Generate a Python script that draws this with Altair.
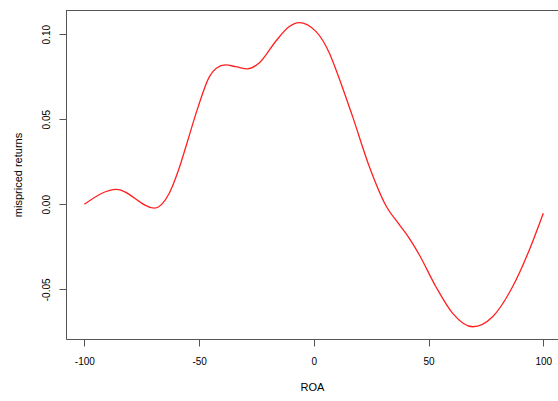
import altair as alt
import pandas as pd

roa = [-100, -86, -69.5, -63, -59, -55.5, -50.6, -45.5, -42.5,
       -38.5, -34, -29, -23.7, -16.5, -10.7, -6.5, 1, 6.8, 10.5, 16.9, 24.2, 31.5,
       37, 41.6, 46, 53.2, 60.5, 69.2, 77.9, 86.6, 93.9, 100]
returns = [0.0000, 0.0088, -0.0023, 0.0065, 0.0200, 0.0350,
           0.0565, 0.0750, 0.0800, 0.0819, 0.0809, 0.0796, 0.0832, 0.0960, 0.1045,
           0.1068, 0.1015, 0.0888, 0.0760, 0.0515, 0.0221, -0.0010, -0.0115, -0.0200,
           -0.0298, -0.0485, -0.0641, -0.0720, -0.0661, -0.0485, -0.0269, -0.0053]
x_ticks = [-100, -50, 0, 50, 100]
y_ticks = [-0.05, 0.0, 0.05, 0.10]

df = pd.DataFrame({"ROA": roa, "ret": returns})

box = "#555555"
font = "Liberation Sans"

line = alt.Chart(df).mark_line(color="#ff2020", strokeWidth=1.3, interpolate="monotone").encode(
    x=alt.X("ROA:Q",
            scale=alt.Scale(domain=[-108, 106.4], nice=False, zero=False),
            axis=alt.Axis(title="ROA", values=x_ticks, grid=False, tickSize=7,
                          labelPadding=10, titlePadding=15, domainColor=box, tickColor=box,
                          titleFontWeight="normal",
                          labelExpr="replace(format(datum.value, 'd'), '\u2212', '-')")),
    y=alt.Y("ret:Q",
            scale=alt.Scale(domain=[-0.0792, 0.1142], nice=False, zero=False),
            axis=alt.Axis(title="mispriced returns", values=y_ticks, grid=False, tickSize=7,
                          labelAngle=270, labelAlign="center", labelBaseline="bottom",
                          labelPadding=8, titlePadding=18, domainColor=box, tickColor=box,
                          titleFontWeight="normal",
                          labelExpr="replace(format(datum.value, '.2f'), '\u2212', '-')")),
)

top = alt.Chart(df).mark_rule(color=box, strokeWidth=1).encode(
    x=alt.value(0), x2=alt.value(492), y=alt.value(0.5)
)

chart = alt.layer(line, top).properties(
    width=492, height=329,
    autosize=alt.AutoSizeParams(type="none"),
    padding={"left": 66, "top": 10, "right": 0, "bottom": 62},
).configure_view(stroke=None).configure_axis(
    labelFont=font, titleFont=font, labelFontSize=12, titleFontSize=12,
    labelColor="#111111", titleColor="#111111", titleFontWeight="normal",
    domainWidth=1, tickWidth=1,
).configure(background="white")

chart.save("out.html", embed_options={"renderer": "svg", "actions": False})
